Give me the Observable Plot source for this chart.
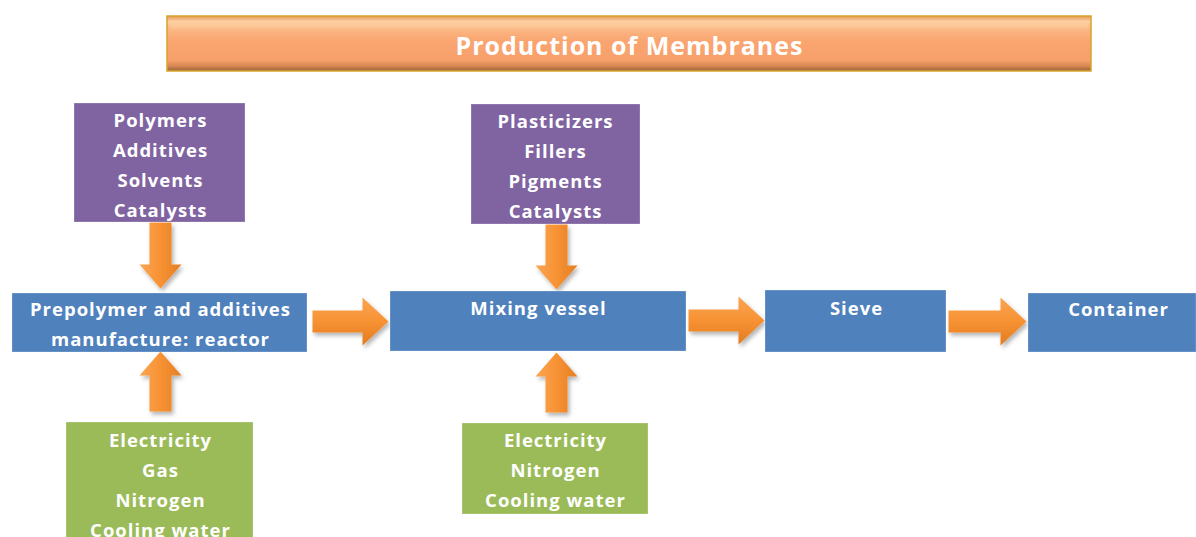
<!DOCTYPE html>
<html>
<head>
<meta charset="utf-8">
<script src="https://cdn.jsdelivr.net/npm/d3@7"></script>
<script src="https://cdn.jsdelivr.net/npm/@observablehq/plot@0.6"></script>
<style>
  body { margin: 0; background: #ffffff; }
  #chart svg { display: block; }
</style>
</head>
<body>
<div id="chart"></div>
<script>
// ---------- content ----------
const titleText = "Production of Membranes";
const processSteps = ["Prepolymer and additives\nmanufacture: reactor", "Mixing vessel", "Sieve", "Container"];
const materialInputs = ["Polymers\nAdditives\nSolvents\nCatalysts", "Plasticizers\nFillers\nPigments\nCatalysts"];
const utilityInputs = ["Electricity\nGas\nNitrogen\nCooling water", "Electricity\nNitrogen\nCooling water"];

// ---------- layout (pixel space of the diagram) ----------
const W = 1196, H = 537;
const bannerBox = [167, 1091, 16, 71];
const processBoxes = [[12, 307, 293, 352], [390, 686, 291, 351], [765, 946, 290, 352], [1028, 1196, 293, 352]];
const processTextPos = [[160, 321], [538, 305], [856, 305], [1118, 306]];
const materialBoxes = [[74, 245, 103, 222], [471, 640, 104, 224]];
const materialTextPos = [[160, 162], [555, 163]];
const utilityBoxes = [[66, 253, 422, 545], [462, 648, 423, 514]];
const utilityTextPos = [[160, 482], [555, 467]];
// arrows: [xFrom, yFrom, xTo, yTo] (tip at "to")
const verticalArrows = [[160, 222, 160, 288], [160, 411, 160, 351], [556, 224, 556, 289], [556, 412, 556, 352]];
const horizontalArrows = [[312, 321, 388, 321], [688, 320, 764, 320], [948, 321, 1026, 321]];

const colors = {blue: "#4F81BD", purple: "#8064A2", green: "#9BBB59", orange: "#F79234"};
const FONT = "'Open Sans', Lato, sans-serif";

// ---------- build shapes ----------
function boxRows(boxes, labels, pos, fill) {
  return boxes.map((b, i) => ({x1: b[0], x2: b[1], y1: b[2], y2: b[3], fill, label: labels[i], tx: pos[i][0], ty: pos[i][1]}));
}
const boxes = [
  ...boxRows(processBoxes, processSteps, processTextPos, colors.blue),
  ...boxRows(materialBoxes, materialInputs, materialTextPos, colors.purple),
  ...boxRows(utilityBoxes, utilityInputs, utilityTextPos, colors.green)
];

function arrowPolygon(id, a, shaft, head, headLen) {
  const [x0, y0, x1, y1] = a;
  const dx = x1 - x0, dy = y1 - y0, L = Math.hypot(dx, dy);
  const ux = dx / L, uy = dy / L, vx = -uy, vy = ux;
  const local = [[0, -shaft], [L - headLen, -shaft], [L - headLen, -head], [L, 0], [L - headLen, head], [L - headLen, shaft], [0, shaft], [0, -shaft]];
  return local.map(([u, v]) => ({id, x: x0 + u * ux + v * vx, y: y0 + u * uy + v * vy}));
}
const vArrowPts = verticalArrows.flatMap((a, i) => arrowPolygon("v" + i, a, 11, 21, 24));
const hArrowPts = horizontalArrows.flatMap((a, i) => arrowPolygon("h" + i, a, 11, 24, 26));

const plot = Plot.plot({
  width: W,
  height: H,
  margin: 0,
  x: {domain: [0, W], range: [0, W], axis: null},
  y: {domain: [0, H], range: [0, H], axis: null},
  style: {background: "#ffffff", fontFamily: FONT, overflow: "hidden"},
  color: {type: "identity"},
  marks: [
    // title banner
    Plot.rect([bannerBox], {x1: d => d[0], x2: d => d[1], y1: d => d[2], y2: d => d[3], fill: "url(#bannerGrad)", stroke: "#D6A42A", strokeWidth: 1.5}),
    Plot.rect([bannerBox], {x1: d => d[0] + 3, x2: d => d[1] - 3, y1: d => d[2] + 3, y2: d => d[3] - 4, fill: "url(#bannerInner)"}),
    Plot.text([titleText], {x: () => 629, y: () => 46, text: d => d, fill: "white", fontSize: 25, fontWeight: "bold", fontFamily: FONT}),
    // arrows
    Plot.line(vArrowPts, {x: "x", y: "y", z: "id", fill: colors.orange, stroke: "none"}),
    Plot.line(hArrowPts, {x: "x", y: "y", z: "id", fill: colors.orange, stroke: "none"}),
    // boxes
    Plot.rect(boxes, {x1: "x1", x2: "x2", y1: "y1", y2: "y2", fill: "fill", stroke: "#ffffff", strokeOpacity: 0.25, strokeWidth: 1}),
    Plot.text(boxes, {x: "tx", y: "ty", text: "label", fill: "white", fontSize: 18.5, fontWeight: "bold", fontFamily: FONT, lineHeight: 1.62, lineAnchor: "middle"})
  ]
});

// gradients, shadow & letter spacing
const svg = d3.select(plot);
const defs = svg.insert("defs", ":first-child");
const bg = defs.append("linearGradient").attr("id", "bannerGrad").attr("x1", 0).attr("y1", 0).attr("x2", 0).attr("y2", 1);
[[0, "#E8955A"], [0.1, "#FDD0A2"], [0.22, "#FBB885"], [0.45, "#FAA570"], [0.8, "#F7A06B"], [0.9, "#D98A55"], [1, "#9C6336"]]
  .forEach(([o, c]) => bg.append("stop").attr("offset", o).attr("stop-color", c));
const bi = defs.append("linearGradient").attr("id", "bannerInner").attr("x1", 0).attr("y1", 0).attr("x2", 0).attr("y2", 1);
[[0, "#FDD0A2", 0.0], [0.15, "#FDCFA0", 0.6], [0.35, "#FAA570", 0.0], [1, "#FAA570", 0.0]]
  .forEach(([o, c, op]) => bi.append("stop").attr("offset", o).attr("stop-color", c).attr("stop-opacity", op));
const av = defs.append("linearGradient").attr("id", "arrowV").attr("x1", 0).attr("y1", 0).attr("x2", 1).attr("y2", 0);
[[0, "#FBA552"], [0.5, "#F79234"], [1, "#E57E22"]].forEach(([o, c]) => av.append("stop").attr("offset", o).attr("stop-color", c));
const ah = defs.append("linearGradient").attr("id", "arrowH").attr("x1", 0).attr("y1", 0).attr("x2", 0).attr("y2", 1);
[[0, "#FBA552"], [0.5, "#F79234"], [1, "#E27B20"]].forEach(([o, c]) => ah.append("stop").attr("offset", o).attr("stop-color", c));
const f = defs.append("filter").attr("id", "shadow").attr("x", "-20%").attr("y", "-20%").attr("width", "150%").attr("height", "150%");
f.append("feDropShadow").attr("dx", 2).attr("dy", 3).attr("stdDeviation", 2).attr("flood-color", "#000").attr("flood-opacity", 0.3);
const lineGroups = svg.selectAll('g[aria-label="line"]').nodes();
lineGroups.forEach((g, i) => {
  const sel = d3.select(g);
  sel.attr("fill", null);
  sel.selectAll("path").attr("fill", i === 0 ? "url(#arrowV)" : "url(#arrowH)").attr("filter", "url(#shadow)");
});
svg.selectAll('g[aria-label="text"]').attr("letter-spacing", "1px");

document.getElementById("chart").append(plot);
</script>
</body>
</html>
